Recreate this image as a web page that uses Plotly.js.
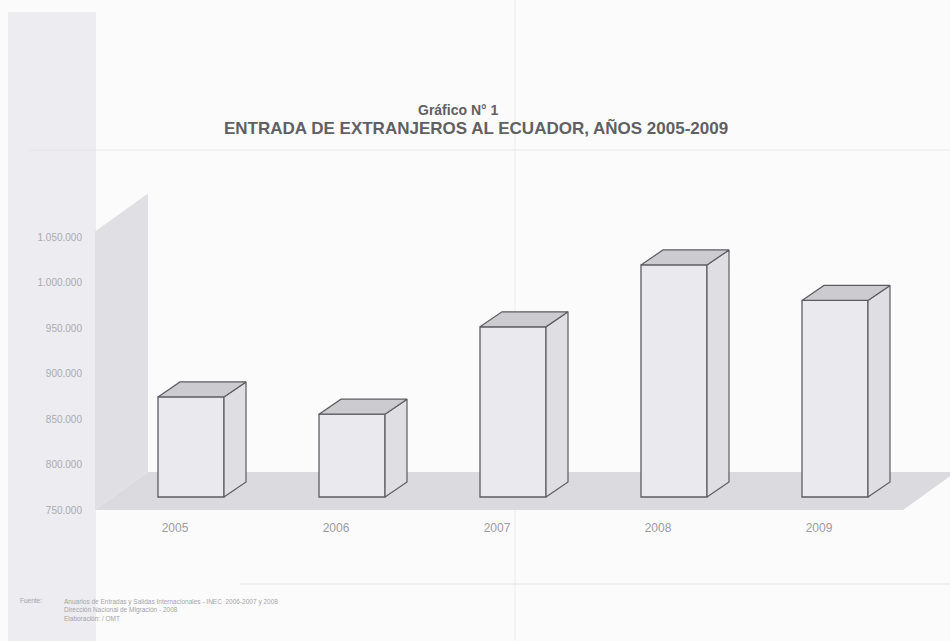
<!DOCTYPE html>
<html>
<head>
<meta charset="utf-8">
<script src="https://cdn.plot.ly/plotly-3.0.1.min.js"></script>
<style>html,body{margin:0;padding:0;background:#fbfbfc;}#chart{width:950px;height:641px;}</style>
</head>
<body>
<div id="chart"></div>
<script>
// ---- data ----
const years = ['2005', '2006', '2007', '2008', '2009'];
const entries = [860000, 841000, 937000, 1005000, 966000];
const yTickValues = [750000, 800000, 850000, 900000, 950000, 1000000, 1050000];
const titleLine1 = 'Gráfico N° 1';
const titleLine2 = 'ENTRADA DE EXTRANJEROS AL ECUADOR, AÑOS 2005-2009';
const sourceLabel = 'Fuente:';
const sourceLines = [
  'Anuarios de Entradas y Salidas Internacionales - INEC  2006-2007 y 2008',
  'Dirección Nacional de Migración - 2008',
  'Elaboración: / OMT'
];

// ---- geometry (layout only) ----
const W = 950, H = 641;
const L = 95, R = 0, T = 150, B = 126;
const plotW = W - L - R, plotH = H - T - B;
const baseValue = 750000;
const barWidth = 0.41;
const xRangeFront = [-0.497, 4.8137];
const yRangeFront = [744505, 1145604];
const xRangeBars = [-0.5963, 4.7143];
const yRangeBars = [730220, 1131319];
const xPerPx = (xRangeFront[1] - xRangeFront[0]) / plotW;
const yPerPx = (yRangeFront[1] - yRangeFront[0]) / plotH;
const depthX = 22 * xPerPx, depthY = 15 * yPerPx;   // bar depth
const floorX = 53 * xPerPx, floorY = 38 * yPerPx;   // floor/wall depth
const wallTop = 1056000;

const px = X => (X - L) / plotW;
const py = Y => (H - B - Y) / plotH;

// floor & side wall (front plane axes)
const x0 = xRangeFront[0];
const floor = {
  type: 'scatter', mode: 'lines', fill: 'toself', hoverinfo: 'skip',
  x: [x0, 4.522, 4.522 + floorX, x0 + floorX, x0],
  y: [baseValue, baseValue, baseValue + floorY, baseValue + floorY, baseValue],
  line: {width: 0, color: 'rgba(0,0,0,0)'}, fillcolor: '#dadadf', xaxis: 'x', yaxis: 'y'
};
const wall = {
  type: 'scatter', mode: 'lines', fill: 'toself', hoverinfo: 'skip',
  x: [x0, x0, x0 + floorX, x0 + floorX, x0],
  y: [baseValue, wallTop, wallTop + floorY, baseValue + floorY, baseValue],
  line: {width: 0, color: 'rgba(0,0,0,0)'}, fillcolor: '#dfdfe4', xaxis: 'x', yaxis: 'y'
};

// bars (bar plane axes)
const xs = years.map((_, i) => i);
const bars = {
  type: 'bar', x: xs, y: entries.map(v => v - baseValue), base: baseValue,
  width: barWidth, xaxis: 'x2', yaxis: 'y2', hoverinfo: 'skip',
  marker: {color: '#eaeaee', line: {color: '#5c5c62', width: 1.3}}
};
const topX = [], topY = [], sideX = [], sideY = [];
entries.forEach((v, i) => {
  const a = i - barWidth / 2, b = i + barWidth / 2;
  topX.push(a, b, b + depthX, a + depthX, a, null);
  topY.push(v, v, v + depthY, v + depthY, v, null);
  sideX.push(b, b, b + depthX, b + depthX, b, null);
  sideY.push(baseValue, v, v + depthY, baseValue + depthY, baseValue, null);
});
const tops = {
  type: 'scatter', mode: 'lines', fill: 'toself', x: topX, y: topY, hoverinfo: 'skip',
  xaxis: 'x2', yaxis: 'y2', fillcolor: '#cbcbd0', line: {color: '#5c5c62', width: 1.2}
};
const sides = {
  type: 'scatter', mode: 'lines', fill: 'toself', x: sideX, y: sideY, hoverinfo: 'skip',
  xaxis: 'x2', yaxis: 'y2', fillcolor: '#dedee3', line: {color: '#5c5c62', width: 1.2}
};

const fam = 'Liberation Sans, Arial, sans-serif';
const annFont = {family: fam, color: '#a4a4a8', size: 6.5};
const annotations = [
  {xref: 'paper', yref: 'paper', x: px(458), y: py(110), text: '<b>' + titleLine1 + '</b>', showarrow: false,
   xanchor: 'center', yanchor: 'middle', font: {family: fam, size: 14, color: '#606064'}},
  {xref: 'paper', yref: 'paper', x: px(476), y: py(128), text: '<b>' + titleLine2 + '</b>', showarrow: false,
   xanchor: 'center', yanchor: 'middle', font: {family: fam, size: 17, color: '#606064'}},
  {xref: 'paper', yref: 'paper', x: px(18), y: py(600), text: sourceLabel, showarrow: false,
   xanchor: 'left', yanchor: 'middle', font: annFont},
  {xref: 'paper', yref: 'paper', x: px(62), y: py(596), text: sourceLines.join('<br>'), showarrow: false,
   xanchor: 'left', yanchor: 'top', align: 'left', font: annFont}
];

const layout = {
  width: W, height: H,
  margin: {l: L, r: R, t: T, b: B, pad: 0},
  paper_bgcolor: '#fbfbfc', plot_bgcolor: 'rgba(0,0,0,0)',
  showlegend: false, separators: ',.',
  font: {family: fam},
  xaxis: {range: xRangeFront, tickvals: xs, ticktext: years, showgrid: false, zeroline: false,
          showline: false, ticks: '', ticklabelstandoff: 4, tickfont: {size: 12, color: '#9c9ca0'}, fixedrange: true},
  yaxis: {range: yRangeFront, tickvals: yTickValues, tickformat: ',d', showgrid: false, zeroline: false,
          showline: false, ticks: '', ticklabelstandoff: 12, tickfont: {size: 10, color: '#ababaf'}, fixedrange: true},
  xaxis2: {range: xRangeBars, overlaying: 'x', visible: false, fixedrange: true},
  yaxis2: {range: yRangeBars, overlaying: 'y', visible: false, fixedrange: true},
  shapes: [
    {type: 'rect', xref: 'paper', yref: 'paper', x0: px(8), x1: px(96), y0: py(641), y1: py(12),
     fillcolor: '#ececf1', line: {width: 0}, layer: 'below'},
    {type: 'line', xref: 'paper', yref: 'paper', x0: px(515), x1: px(515), y0: py(641), y1: py(0),
     line: {color: '#ededf0', width: 1}, layer: 'below'},
    {type: 'line', xref: 'paper', yref: 'paper', x0: px(30), x1: px(950), y0: py(150), y1: py(150),
     line: {color: '#e6e6e9', width: 1}, layer: 'below'},
    {type: 'line', xref: 'paper', yref: 'paper', x0: px(240), x1: px(950), y0: py(584), y1: py(584),
     line: {color: '#e4e4e7', width: 1}, layer: 'below'}
  ],
  annotations: annotations
};

Plotly.newPlot('chart', [wall, floor, bars, sides, tops], layout, {displayModeBar: false, staticPlot: true});
</script>
</body>
</html>
